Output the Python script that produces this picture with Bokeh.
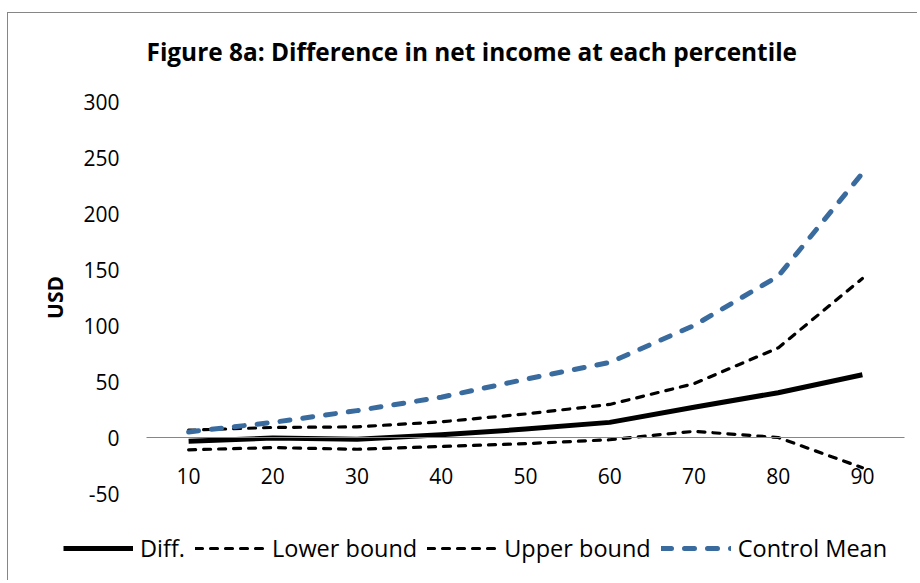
from bokeh.plotting import figure
from bokeh.models import Range1d, FixedTicker, Legend, LegendItem, Label
from bokeh.embed import file_html
from bokeh.resources import INLINE

percentiles = [10, 20, 30, 40, 50, 60, 70, 80, 90]
diff = [-3.3, -0.5, -1.5, 2.5, 7.5, 13.5, 27, 40, 56]
lower_bound = [-11, -9, -10.5, -8, -5.5, -2, 5.5, 0, -27]
upper_bound = [6.5, 9, 9.5, 14, 21, 29.5, 48, 80, 142]
control_mean = [5, 13.5, 24, 36, 52, 67, 100, 144, 236]
y_ticks = [-50, 0, 50, 100, 150, 200, 250, 300]
title_text = "Figure 8a: Difference in net income at each percentile"

FONT = "Open Sans"

# layout (canvas pixels)
W, H = 910, 568
AREA_T = 88                   # plot-area top (y = 300)
AREA_L, AREA_R = 138, 896     # plot-area left/right
AREA_H = 392                  # plot-area height (300 .. -50)
X0, X1 = 5, 95                # category span
Y0, Y1 = -50, 300

xs = (X1 - X0) / (AREA_R - AREA_L)
ys = (Y1 - Y0) / AREA_H
x_range = Range1d(X0 - AREA_L * xs, X1 + (W - AREA_R) * xs)
y_range = Range1d(Y0 - (H - AREA_T - AREA_H) * ys, Y1 + AREA_T * ys)

p = figure(width=W, height=H, output_backend="svg", toolbar_location=None,
           title=None, x_range=x_range, y_range=y_range,
           min_border_left=0, min_border_right=0, min_border_top=0, min_border_bottom=0,
           styles={"border-left": "1px solid #868686", "border-top": "1px solid #868686",
                   "margin-top": "12px", "margin-left": "7px"})

p.grid.visible = False
p.outline_line_color = None
p.background_fill_color = "white"
p.border_fill_color = "white"

p.add_layout(Label(x=AREA_L, y=H - 38, x_units="screen", y_units="screen",
                   text=title_text, text_font=FONT, text_font_size="24.4px",
                   text_font_style="bold", text_color="black",
                   text_align="left", text_baseline="alphabetic"))

# x axis crossing at zero
p.xaxis.fixed_location = 0
p.xaxis.bounds = (X0, X1)
p.xaxis.ticker = FixedTicker(ticks=percentiles)
p.xaxis.axis_line_color = "#868686"
p.xaxis.axis_line_width = 1
p.xaxis.major_tick_line_color = None
p.xaxis.minor_tick_line_color = None
p.xaxis.major_label_standoff = 24
p.xaxis.major_label_text_font = FONT
p.xaxis.major_label_text_font_size = "21px"
p.xaxis.major_label_text_color = "black"

p.yaxis.fixed_location = X0
p.yaxis.bounds = (Y0, Y1)
p.yaxis.ticker = FixedTicker(ticks=y_ticks)
p.yaxis.major_label_overrides = {t: str(t) for t in y_ticks}
p.yaxis.axis_line_color = None
p.yaxis.major_tick_line_color = None
p.yaxis.minor_tick_line_color = None
p.yaxis.major_label_standoff = 21
p.yaxis.major_label_text_font = FONT
p.yaxis.major_label_text_font_size = "21px"
p.yaxis.major_label_text_color = "black"
p.yaxis.axis_label = "USD"
p.yaxis.axis_label_text_font = FONT
p.yaxis.axis_label_text_font_size = "21px"
p.yaxis.axis_label_text_font_style = "bold"
p.yaxis.axis_label_text_color = "black"
p.yaxis.axis_label_standoff = 11

r_diff = p.line(percentiles, diff, line_color="black", line_width=5, line_join="round")
r_low = p.line(percentiles, lower_bound, line_color="black", line_width=3.2,
               line_dash="7 8", line_cap="round", line_join="round")
r_up = p.line(percentiles, upper_bound, line_color="black", line_width=3.2,
              line_dash="7 8", line_cap="round", line_join="round")
r_ctrl = p.line(percentiles, control_mean, line_color="#3A6B9F", line_width=5,
                line_dash="10 13", line_cap="round", line_join="round")

legend = Legend(items=[
    LegendItem(label="Diff.", renderers=[r_diff]),
    LegendItem(label="Lower bound", renderers=[r_low]),
    LegendItem(label="Upper bound", renderers=[r_up]),
    LegendItem(label="Control Mean", renderers=[r_ctrl]),
], orientation="horizontal", location=(55, 17), glyph_width=70, glyph_height=20,
    label_standoff=7, spacing=10, padding=0, margin=0,
    border_line_color=None, background_fill_alpha=0,
    label_text_font=FONT, label_text_font_size="23.5px", label_text_color="black")
p.add_layout(legend)

open("out.html", "w").write(file_html(p, INLINE))
